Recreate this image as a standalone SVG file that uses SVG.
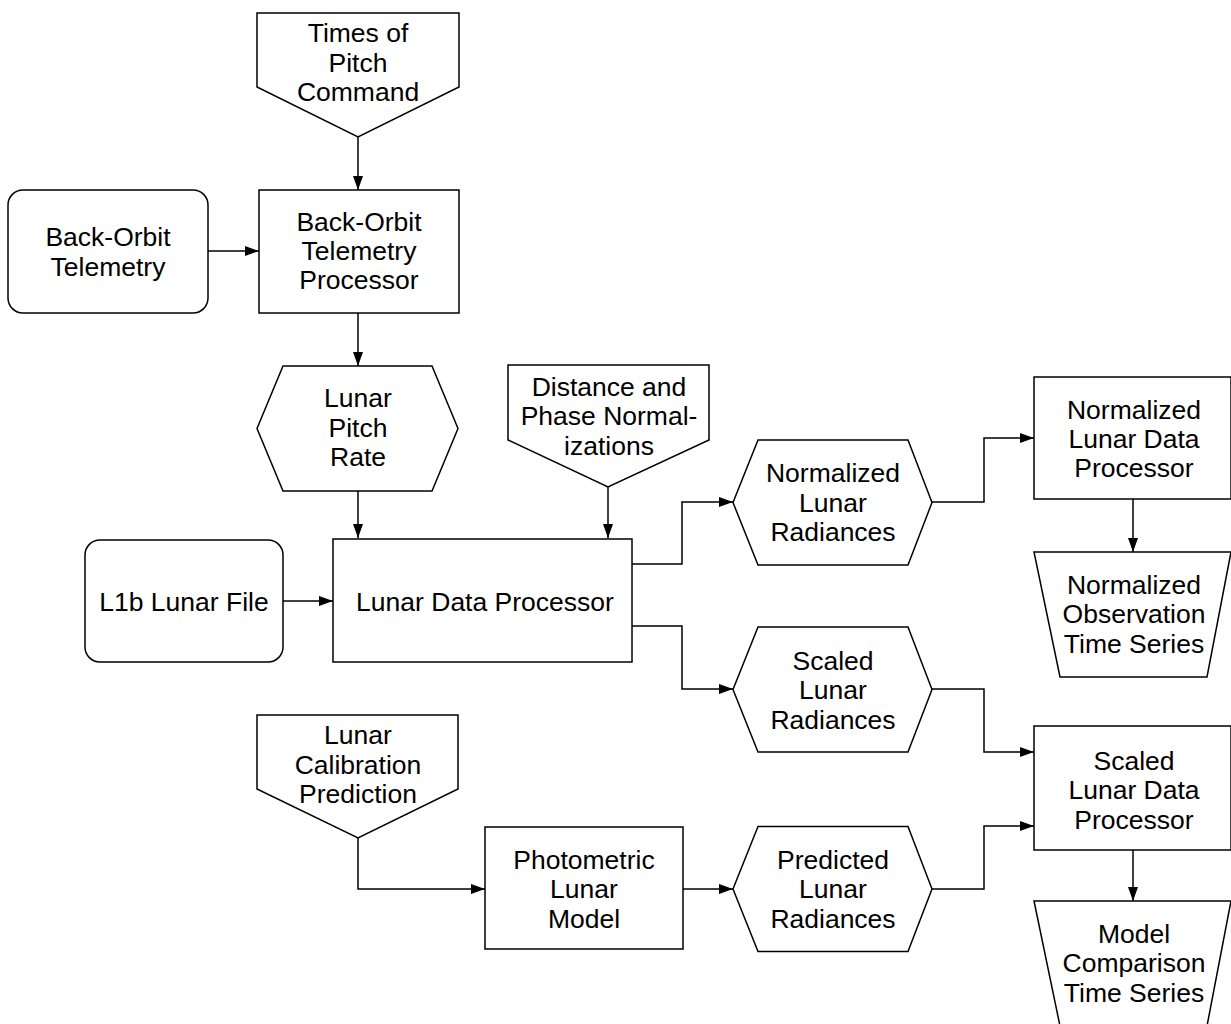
<svg xmlns="http://www.w3.org/2000/svg" width="1231" height="1024" viewBox="0 0 1231 1024">
<style>
.n{fill:#fff;stroke:#000;stroke-width:1.5}
.c{fill:none;stroke:#000;stroke-width:1.5;marker-end:url(#ah)}
text{font-family:"Liberation Sans",Arial,sans-serif;font-size:26.5px;fill:#000;text-anchor:middle}
</style>
<defs>
<marker id="ah" viewBox="0 0 14 10" refX="14" refY="5" markerWidth="14" markerHeight="10" markerUnits="userSpaceOnUse" orient="auto">
<path d="M0,0 L14,5 L0,10 Z" fill="#000"/>
</marker>
</defs>
<rect width="1231" height="1024" fill="#fff"/>
<g id="connectors">
<path class="c" d="M358,137 V190"/>
<path class="c" d="M208,251 H259"/>
<path class="c" d="M358,313 V366"/>
<path class="c" d="M358,491 V538"/>
<path class="c" d="M608,487 V538"/>
<path class="c" d="M283,601 H333"/>
<path class="c" d="M632,564 H682 V502 H733"/>
<path class="c" d="M632,626 H682 V689 H733"/>
<path class="c" d="M932,502 H984 V438 H1034"/>
<path class="c" d="M1133,499 V552"/>
<path class="c" d="M932,689 H984 V752 H1034"/>
<path class="c" d="M358,838 V889 H485"/>
<path class="c" d="M683,889 H733"/>
<path class="c" d="M932,889 H984 V826 H1034"/>
<path class="c" d="M1133,850 V901"/>
</g>
<g id="times-of-pitch-command">
<polygon class="n" points="257,13 459,13 459,87 358,137 257,87"/>
<text x="358" y="42">Times of</text><text x="358" y="71.5">Pitch</text><text x="358" y="101">Command</text>
</g>
<g id="back-orbit-telemetry">
<rect class="n" x="8" y="190" width="200" height="123" rx="15"/>
<text x="108" y="246">Back-Orbit</text><text x="108" y="275.5">Telemetry</text>
</g>
<g id="back-orbit-telemetry-processor">
<rect class="n" x="259" y="190" width="200" height="123"/>
<text x="359" y="230.5">Back-Orbit</text><text x="359" y="260">Telemetry</text><text x="359" y="289">Processor</text>
</g>
<g id="lunar-pitch-rate">
<polygon class="n" points="257,428.5 283,366 432,366 458,428.5 432,491 283,491"/>
<text x="358" y="407">Lunar</text><text x="358" y="436.5">Pitch</text><text x="358" y="466">Rate</text>
</g>
<g id="distance-phase">
<polygon class="n" points="508,365 709,365 709,440 608,487 508,440"/>
<text x="609" y="395.5">Distance and</text><text x="609" y="425">Phase Normal-</text><text x="609" y="454.5">izations</text>
</g>
<g id="l1b-lunar-file">
<rect class="n" x="85" y="540" width="198" height="122" rx="15"/>
<text x="184" y="610.5">L1b Lunar File</text>
</g>
<g id="lunar-data-processor">
<rect class="n" x="333" y="539" width="299" height="123"/>
<text x="485" y="610.5">Lunar Data Processor</text>
</g>
<g id="normalized-lunar-radiances">
<polygon class="n" points="733,502.5 758,440 908,440 932,502.5 908,565 758,565"/>
<text x="833" y="482">Normalized</text><text x="833" y="511.5">Lunar</text><text x="833" y="541">Radiances</text>
</g>
<g id="normalized-lunar-data-processor">
<rect class="n" x="1034" y="377" width="197" height="122"/>
<text x="1134" y="418.5">Normalized</text><text x="1134" y="448">Lunar Data</text><text x="1134" y="477">Processor</text>
</g>
<g id="normalized-observation-time-series">
<polygon class="n" points="1034,552 1231,552 1207,677 1060,677"/>
<text x="1134" y="593.5">Normalized</text><text x="1134" y="623">Observation</text><text x="1134" y="652.5">Time Series</text>
</g>
<g id="scaled-lunar-radiances">
<polygon class="n" points="733,689.5 758,627 908,627 932,689.5 908,752 758,752"/>
<text x="833" y="669.5">Scaled</text><text x="833" y="699">Lunar</text><text x="833" y="728.5">Radiances</text>
</g>
<g id="scaled-lunar-data-processor">
<rect class="n" x="1034" y="726" width="197" height="124"/>
<text x="1134" y="769.5">Scaled</text><text x="1134" y="799">Lunar Data</text><text x="1134" y="828.5">Processor</text>
</g>
<g id="lunar-calibration-prediction">
<polygon class="n" points="257,715 458,715 458,789 358,838 257,789"/>
<text x="358" y="744">Lunar</text><text x="358" y="773.5">Calibration</text><text x="358" y="803">Prediction</text>
</g>
<g id="photometric-lunar-model">
<rect class="n" x="485" y="827" width="198" height="122"/>
<text x="584" y="868.5">Photometric</text><text x="584" y="898">Lunar</text><text x="584" y="927.5">Model</text>
</g>
<g id="predicted-lunar-radiances">
<polygon class="n" points="733,889 758,826.5 908,826.5 932,889 908,951.5 758,951.5"/>
<text x="833" y="868.5">Predicted</text><text x="833" y="898">Lunar</text><text x="833" y="927.5">Radiances</text>
</g>
<g id="model-comparison-time-series">
<polygon class="n" points="1034,901 1231,901 1207,1026 1060,1026"/>
<text x="1134" y="942.5">Model</text><text x="1134" y="972">Comparison</text><text x="1134" y="1001.5">Time Series</text>
</g>
</svg>
